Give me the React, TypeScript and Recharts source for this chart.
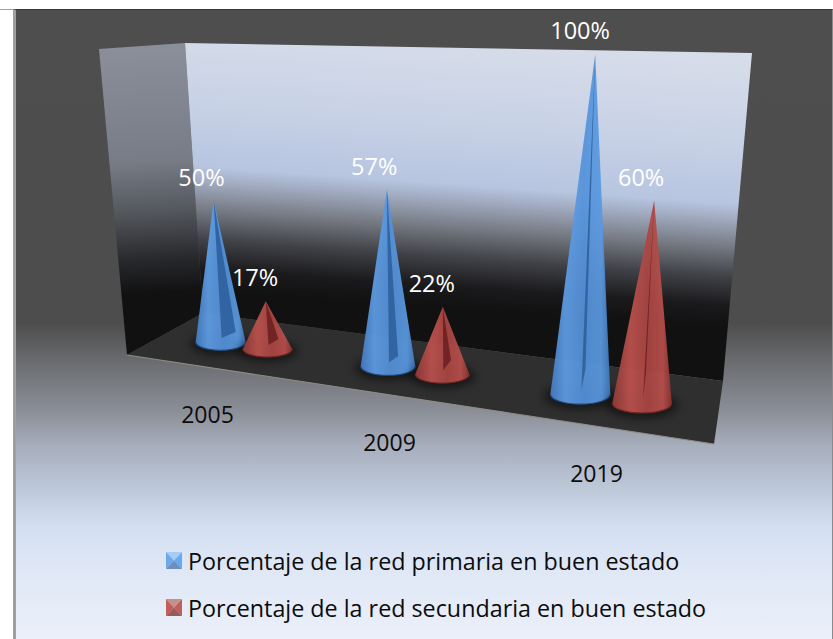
import React from 'react';
import { BarChart, Bar, XAxis, YAxis, Legend, LabelList, Customized } from 'recharts';

const years = ['2005', '2009', '2019'];
const primaryValues = [50, 57, 100];
const secondaryValues = [17, 22, 60];
const primaryName = 'Porcentaje de la red primaria en buen estado';
const secondaryName = 'Porcentaje de la red secundaria en buen estado';

const rows = years.map((year, i) => ({
  year,
  primary: primaryValues[i],
  secondary: secondaryValues[i],
}));

const FONT = '"Open Sans", sans-serif';
const WIDTH = 833;
const HEIGHT = 639;
const PLOT_LEFT = 56;
const PLOT_WIDTH = 720;
const STEP = PLOT_WIDTH / years.length;
const PLOT_TOP = 40;
const PLOT_HEIGHT = 340;

// Perspective of the 3D box: maps the flat band position to screen space.
const bandOf = (flatX: number) => (flatX - PLOT_LEFT - STEP / 2) / STEP;
const screenX = (k: number) => 243.5 + 158.5 * k + 12.5 * k * k;
const floorY = (x: number) => 342 + 0.145 * (x - 220);
const unitScale = (x: number) => (2.83 + 0.00158 * (x - 220)) / (PLOT_HEIGHT / 100);
const leanAt = (x: number) => -0.05 + 0.00026 * (x - 220);

type SeriesStyle = {
  gradient: string;
  edge: string;
  slit: string;
  depth: number;
  slitReach: number[];
};

const primaryStyle: SeriesStyle = {
  gradient: 'coneBlue',
  edge: '#1f4a80',
  slit: '#2d5f9c',
  depth: 1,
  slitReach: [0.6, 0.37, 0.17],
};
const secondaryStyle: SeriesStyle = {
  gradient: 'coneRed',
  edge: '#6e2422',
  slit: '#6b2020',
  depth: 0.965,
  slitReach: [0.44, 0.32, 0.13],
};

function project(x: number, width: number, height: number, style: SeriesStyle) {
  const k = bandOf(x + width / 2);
  const cx = screenX(k);
  const scale = unitScale(cx) * style.depth;
  const h = height * scale;
  const cy = floorY(cx);
  const rx = (width / 2) * scale * 1.2;
  return { k, cx, cy, h, rx, ry: rx * 0.33, tipX: cx + leanAt(cx) * h, tipY: cy - h };
}

const Cone = (style: SeriesStyle) => (props: any) => {
  const { x, width, height, index } = props;
  const { cx, cy, rx, ry, tipX, tipY } = project(x, width, height, style);
  const reach = style.slitReach[index] * rx;
  const rise = 10 + Math.max(0, cx - 388) * 0.08;
  return (
    <g>
      <ellipse cx={cx} cy={cy + 2} rx={rx * 1.22} ry={ry * 1.35} fill="#000" opacity={0.5} filter="url(#coneShadow)" />
      <path
        d={`M${cx - rx} ${cy} L${tipX} ${tipY} L${cx + rx} ${cy} A${rx} ${ry} 0 0 1 ${cx - rx} ${cy} Z`}
        fill={`url(#${style.gradient})`}
        fillOpacity={0.93}
      />
      <path d={`M${cx + rx} ${cy} A${rx} ${ry} 0 0 1 ${cx - rx} ${cy}`} fill="none" stroke={style.edge} strokeWidth={1.2} />
      <path
        d={`M${tipX} ${tipY} L${cx + reach} ${cy - rise} L${cx + 1} ${cy - 4} Z`}
        fill={style.slit}
        fillOpacity={0.9}
      />
    </g>
  );
};

const ValueLabel = (style: SeriesStyle) => (props: any) => {
  const box = props.viewBox ?? props;
  const { tipX, tipY, h } = project(box.x, box.width, box.height, style);
  return (
    <text
      x={tipX - 10 - h * 0.015}
      y={tipY - 24}
      textAnchor="middle"
      dominantBaseline="central"
      fill="#fff"
      fontFamily={FONT}
      fontSize={23.5}
    >
      {`${props.value}%`}
    </text>
  );
};

const YearTick = (props: any) => {
  const { x, payload } = props;
  const k = bandOf(x);
  const cx = screenX(k);
  return (
    <text
      x={cx - 36 + k * 11}
      y={floorY(cx) + 69 + k * 2.5}
      textAnchor="middle"
      dominantBaseline="central"
      fill="#0c0c0c"
      fontFamily={FONT}
      fontSize={23}
    >
      {payload.value}
    </text>
  );
};

// The open 3D box behind the cones: side wall, back wall and floor.
const Box = () => (
  <g>
    <defs>
      <linearGradient id="backWall" gradientUnits="userSpaceOnUse" x1={460} y1={43} x2={435} y2={400}>
        <stop offset="0" stopColor="#d6dce9" />
        <stop offset="0.22" stopColor="#c8d2e6" />
        <stop offset="0.395" stopColor="#b7c5e0" />
        <stop offset="0.44" stopColor="#a0aabf" />
        <stop offset="0.52" stopColor="#73777f" />
        <stop offset="0.6" stopColor="#404146" />
        <stop offset="0.68" stopColor="#1a1a1c" />
        <stop offset="0.74" stopColor="#111112" />
        <stop offset="1" stopColor="#111112" />
      </linearGradient>
      <linearGradient id="sideWall" gradientUnits="userSpaceOnUse" x1={150} y1={45} x2={165} y2={320}>
        <stop offset="0" stopColor="#8b8f9a" />
        <stop offset="0.42" stopColor="#777c86" />
        <stop offset="0.6" stopColor="#55585e" />
        <stop offset="0.78" stopColor="#27282b" />
        <stop offset="0.9" stopColor="#111112" />
        <stop offset="1" stopColor="#111112" />
      </linearGradient>
      <linearGradient id="coneBlue" x1="0" y1="0" x2="1" y2="0">
        <stop offset="0" stopColor="#447cc2" />
        <stop offset="0.25" stopColor="#5f9ee6" />
        <stop offset="0.55" stopColor="#5492da" />
        <stop offset="0.85" stopColor="#5a99e0" />
        <stop offset="1" stopColor="#3f76b8" />
      </linearGradient>
      <linearGradient id="coneRed" x1="0" y1="0" x2="1" y2="0">
        <stop offset="0" stopColor="#933b38" />
        <stop offset="0.3" stopColor="#bd524e" />
        <stop offset="0.6" stopColor="#aa4643" />
        <stop offset="0.85" stopColor="#b84f4b" />
        <stop offset="1" stopColor="#8a3331" />
      </linearGradient>
      <filter id="coneShadow" x="-30%" y="-60%" width="160%" height="220%">
        <feGaussianBlur stdDeviation="4" />
      </filter>
    </defs>
    <polygon points="99,49 185,43 203,313 127,355" fill="url(#sideWall)" />
    <polygon points="185,43 752,53 723,381 203,313" fill="url(#backWall)" />
    <polygon points="127,355 203,313 723,381 714,444" fill="#2f2f2f" />
    <line x1={127} y1={355} x2={714} y2={444} stroke="#8d8c84" strokeWidth={1.2} />
  </g>
);

const Marker = ({ top, side, bottom }: { top: string; side: string; bottom: string }) => (
  <svg width={16} height={17} style={{ display: 'block', flex: 'none' }}>
    <polygon points="0,0 16,0 8,8.5" fill={top} />
    <polygon points="0,0 8,8.5 0,17" fill={side} />
    <polygon points="16,0 8,8.5 16,17" fill={side} />
    <polygon points="0,17 16,17 8,8.5" fill={bottom} />
  </svg>
);

const markers = [
  { top: '#a6cdf5', side: '#6ca9ec', bottom: '#6b90bf' },
  { top: '#c78f8c', side: '#c25d59', bottom: '#9a5a58' },
];

const LegendBlock = (props: any) => (
  <div style={{ fontFamily: FONT, fontSize: 23.3, color: '#0c0c0c' }}>
    {(props.payload ?? []).map((entry: any, i: number) => (
      <div key={entry.value} style={{ display: 'flex', alignItems: 'center', height: 47, whiteSpace: 'nowrap' }}>
        <Marker {...markers[i]} />
        <span style={{ marginLeft: 6 }}>{entry.value}</span>
      </div>
    ))}
  </div>
);

export default function App() {
  return (
    <div style={{ position: 'absolute', left: 0, top: 0, width: WIDTH, height: HEIGHT, background: '#fff', overflow: 'hidden' }}>
      <div
        style={{
          position: 'absolute',
          left: 13,
          top: 9,
          right: 0,
          bottom: 0,
          boxSizing: 'border-box',
          borderTop: '1px solid #3a3a3a',
          borderLeft: '3px solid #a0a0a0',
          borderRight: '1px solid #8a8a8a',
          background:
            'linear-gradient(180deg, #4e4e4e 0px, #4d4d4d 313px, #6e7074 357px, #8c9099 403px, #a8afbd 437px, #bcc7d8 477px, #d3dff1 515px, #e0e8f6 563px, #ebf0fa 629px)',
        }}
      />
      <div style={{ position: 'absolute', left: 0, top: 9, width: 13, height: 1, background: '#a0a0a0' }} />
      <div style={{ position: 'absolute', left: 0, top: 0 }}>
        <BarChart
          width={WIDTH}
          height={HEIGHT}
          data={rows}
          barSize={50}
          barGap={21}
          margin={{ left: PLOT_LEFT, right: WIDTH - PLOT_LEFT - PLOT_WIDTH, top: PLOT_TOP, bottom: HEIGHT - PLOT_TOP - PLOT_HEIGHT - 30 }}
        >
          <Customized component={Box} />
          <XAxis dataKey="year" axisLine={false} tickLine={false} tick={YearTick} height={30} interval={0} />
          <YAxis hide domain={[0, 100]} />
          <Legend
            layout="vertical"
            align="center"
            verticalAlign="middle"
            content={LegendBlock}
            wrapperStyle={{ left: 166, top: 537, width: 660 }}
          />
          <Bar dataKey="primary" name={primaryName} fill="#5593da" isAnimationActive={false} shape={Cone(primaryStyle)}>
            <LabelList dataKey="primary" content={ValueLabel(primaryStyle)} />
          </Bar>
          <Bar dataKey="secondary" name={secondaryName} fill="#b84f4b" isAnimationActive={false} shape={Cone(secondaryStyle)}>
            <LabelList dataKey="secondary" content={ValueLabel(secondaryStyle)} />
          </Bar>
        </BarChart>
      </div>
    </div>
  );
}
